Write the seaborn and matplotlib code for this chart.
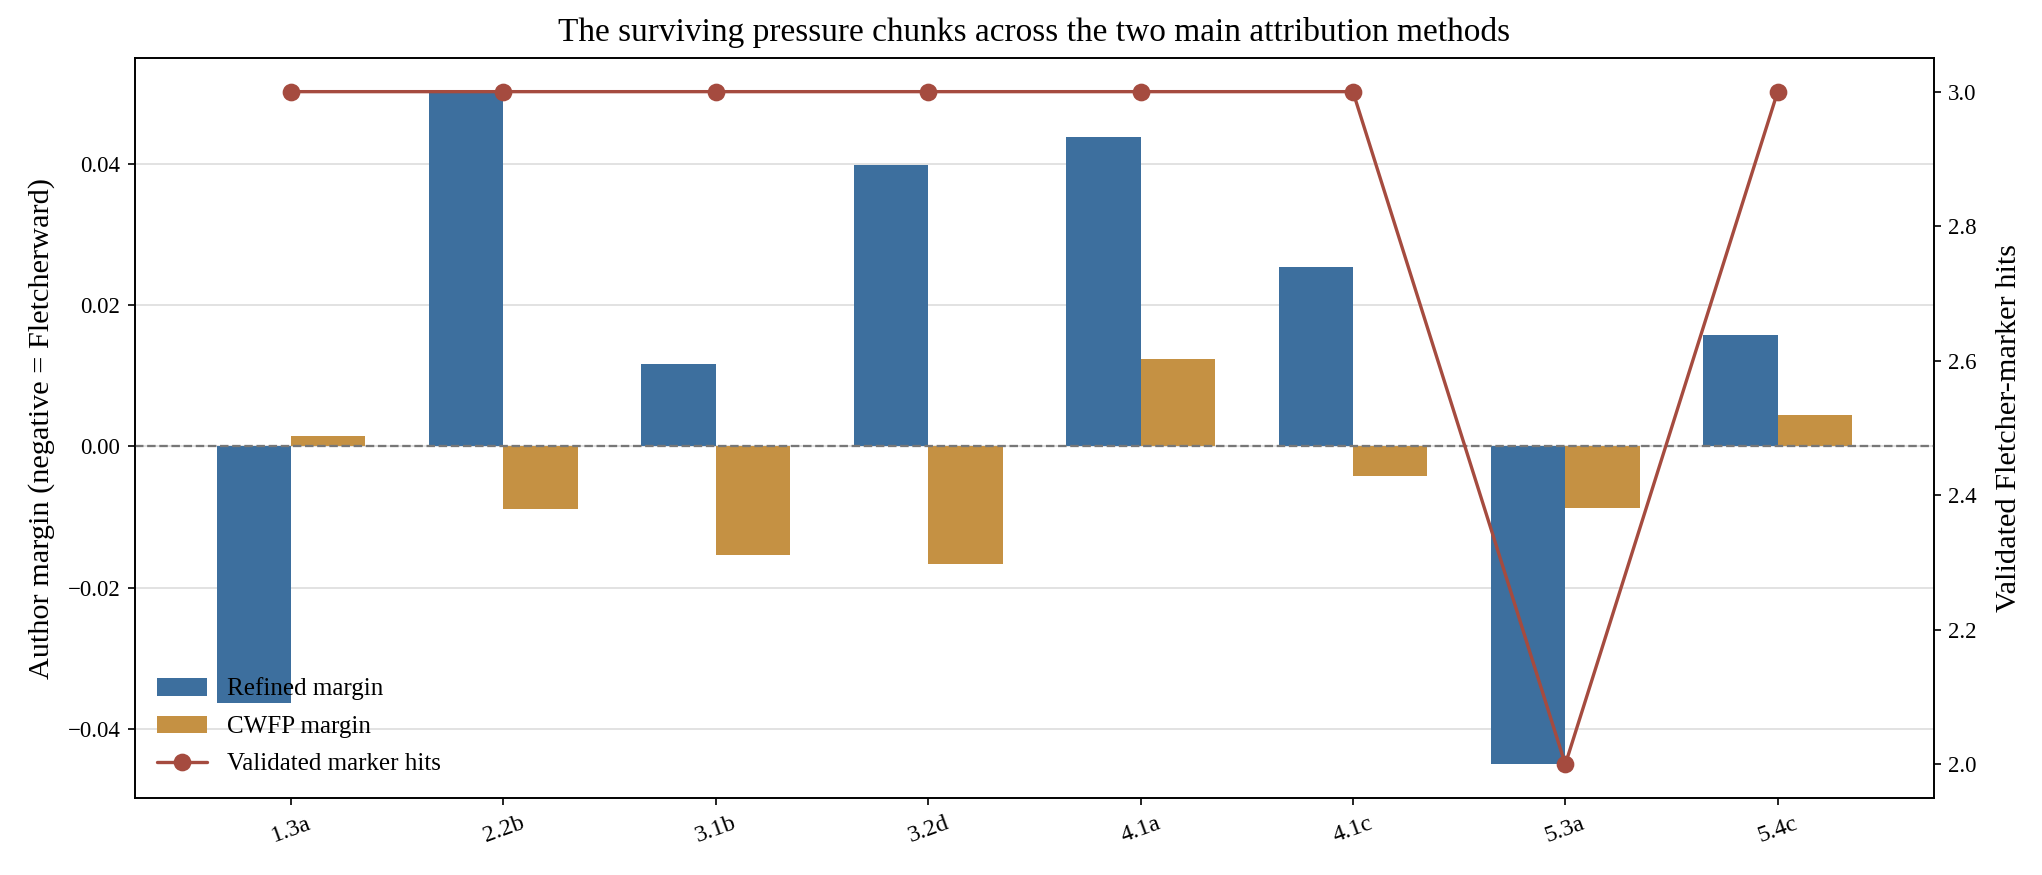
import numpy as np
import pandas as pd
import seaborn as sns
import matplotlib
matplotlib.use('Agg')
import matplotlib.pyplot as plt

# values
chunks = ['1.3a', '2.2b', '3.1b', '3.2d', '4.1a', '4.1c', '5.3a', '5.4c']
refined_margin = [-0.0363, 0.0502, 0.0117, 0.0398, 0.0438, 0.0254, -0.0450, 0.0157]
cwfp_margin = [0.0015, -0.0088, -0.0154, -0.0166, 0.0124, -0.0042, -0.0087, 0.0044]
marker_hits = [3, 3, 3, 3, 3, 3, 2, 3]

blue = '#3d6f9e'
gold = '#c59143'
red = '#a54b3f'

sns.set_style('ticks')
plt.rcParams['font.family'] = ['Liberation Serif', 'DejaVu Serif']
plt.rcParams['text.color'] = 'black'
plt.rcParams['axes.labelcolor'] = 'black'
plt.rcParams['axes.edgecolor'] = 'black'
plt.rcParams['xtick.color'] = 'black'
plt.rcParams['ytick.color'] = 'black'

df = pd.DataFrame({
    'chunk': chunks * 2,
    'margin': refined_margin + cwfp_margin,
    'method': ['Refined margin'] * len(chunks) + ['CWFP margin'] * len(chunks),
})

fig, ax = plt.subplots(figsize=(2042 / 150, 875 / 150), dpi=150)
fig.subplots_adjust(left=0.0661, right=0.947, top=0.9337, bottom=0.088)

sns.barplot(data=df, x='chunk', y='margin', hue='method', palette=[blue, gold],
            width=0.7, saturation=1, gap=0, linewidth=0, ax=ax, legend=True)
ax.axhline(0, color='#777777', ls='--', lw=1.1, zorder=3)
ax.yaxis.grid(True, color='#dddddd', lw=0.8)
ax.set_axisbelow(True)
ax.set_xlabel('')
ax.set_ylabel('Author margin (negative = Fletcherward)', fontsize=14.5, labelpad=6)
ax.tick_params(axis='x', labelrotation=20, labelsize=11.5)
ax.tick_params(axis='y', labelsize=11)
ax.set_title('The surviving pressure chunks across the two main attribution methods',
             fontsize=16, pad=8)

ax2 = ax.twinx()
sns.lineplot(x=np.arange(len(chunks)), y=marker_hits, ax=ax2, color=red, lw=1.6,
             marker='o', markersize=8.5, markeredgewidth=0, label='Validated marker hits')
ax2.set_ylabel('Validated Fletcher-marker hits', fontsize=14.5, labelpad=9)
ax2.tick_params(axis='y', labelsize=11)
ax2.set_yticks([2.0, 2.2, 2.4, 2.6, 2.8, 3.0])

h1, l1 = ax.get_legend_handles_labels()
h2, l2 = ax2.get_legend_handles_labels()
ax.get_legend().remove()
ax2.legend(h1 + h2, l1 + l2, loc='lower left', frameon=False, fontsize=12,
           labelspacing=0.6)

fig.savefig('out.png', dpi=150)
